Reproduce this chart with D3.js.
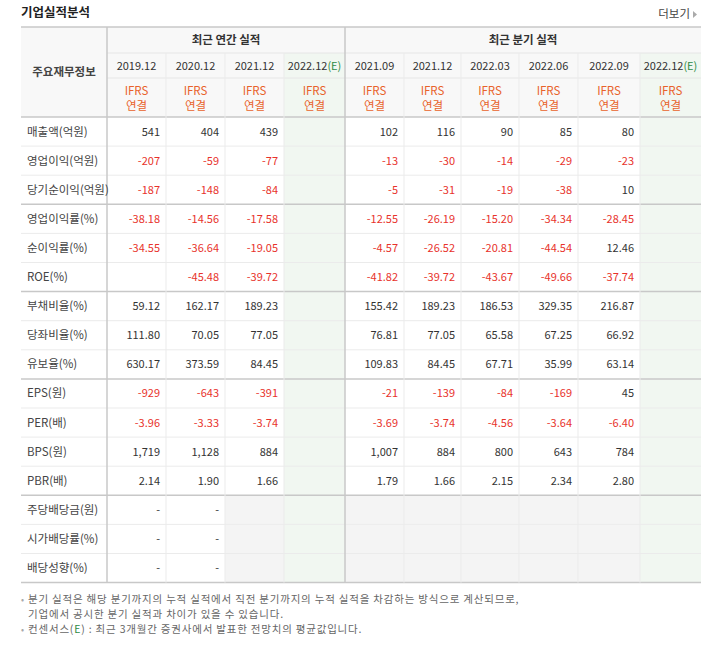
<!DOCTYPE html><html><head><meta charset="utf-8"><script src="https://cdn.jsdelivr.net/npm/d3@7"></script>
<style>body{margin:0;background:#fff;font-family:"Noto Sans CJK KR",sans-serif}</style></head><body><svg id="c" width="715" height="654"></svg>
<script>
const annualPeriods=["2019.12","2020.12","2021.12","2022.12(E)"];
const quarterPeriods=["2021.09","2021.12","2022.03","2022.06","2022.09","2022.12(E)"];
const rowLabels=["매출액(억원)","영업이익(억원)","당기순이익(억원)","영업이익률(%)","순이익률(%)","ROE(%)","부채비율(%)","당좌비율(%)","유보율(%)","EPS(원)","PER(배)","BPS(원)","PBR(배)","주당배당금(원)","시가배당률(%)","배당성향(%)"];
const annualValues=[["541","404","439",""],["-207","-59","-77",""],["-187","-148","-84",""],["-38.18","-14.56","-17.58",""],["-34.55","-36.64","-19.05",""],["","-45.48","-39.72",""],["59.12","162.17","189.23",""],["111.80","70.05","77.05",""],["630.17","373.59","84.45",""],["-929","-643","-391",""],["-3.96","-3.33","-3.74",""],["1,719","1,128","884",""],["2.14","1.90","1.66",""],["-","-",null,null],["-","-",null,null],["-","-",null,null]];
const quarterValues=[["102","116","90","85","80",""],["-13","-30","-14","-29","-23",""],["-5","-31","-19","-38","10",""],["-12.55","-26.19","-15.20","-34.34","-28.45",""],["-4.57","-26.52","-20.81","-44.54","12.46",""],["-41.82","-39.72","-43.67","-49.66","-37.74",""],["155.42","189.23","186.53","329.35","216.87",""],["76.81","77.05","65.58","67.25","66.92",""],["109.83","84.45","67.71","35.99","63.14",""],["-21","-139","-84","-169","45",""],["-3.69","-3.74","-4.56","-3.64","-6.40",""],["1,007","884","800","643","784",""],["1.79","1.66","2.15","2.34","2.80",""],[null,null,null,null,null,null],[null,null,null,null,null,null],[null,null,null,null,null,null]];
const groupBreaks=[3,6,9,13];

const svg=d3.select("#c");
const colEdges=[21,107,166,225,284,345,404,461,519,578,640,701];
const top0=117,rowH=29.1;
const y=d3.scaleLinear().domain([0,rowLabels.length]).range([top0,top0+rowH*rowLabels.length]);
const red="#e8322b",txt="#333",orange="#e8632b",green="#2e8b45";
svg.append("text").attr("x",21).attr("y",17).attr("font-size",12.5).attr("font-weight","bold").attr("fill","#222").text("기업실적분석");
svg.append("text").attr("x",690).attr("y",18).attr("font-size",11.5).attr("fill","#444").attr("text-anchor","end").text("더보기");
svg.append("path").attr("d","M693,11 L697,14.5 L693,18Z").attr("fill","#aaa");
svg.append("rect").attr("x",21).attr("y",27).attr("width",680).attr("height",90).attr("fill","#f8f8f8");
[4,10].forEach(i=>svg.append("rect").attr("x",colEdges[i]).attr("y",53).attr("width",colEdges[i+1]-colEdges[i]).attr("height",y(13)-53).attr("fill","#f1f7f1"));
const allVals=rowLabels.map((r,i)=>annualValues[i].concat(quarterValues[i]));
allVals.forEach((row,i)=>row.forEach((v,j)=>{if(v===null){const c=j+1;svg.append("rect").attr("x",colEdges[c]).attr("y",y(i)).attr("width",colEdges[c+1]-colEdges[c]).attr("height",rowH).attr("fill",(c===4||c===10)?"#f1f7f1":"#f4f4f4");}}));
const line=(x1,y1,x2,y2,c,w)=>svg.append("line").attr("x1",x1).attr("y1",y1).attr("x2",x2).attr("y2",y2).attr("stroke",c).attr("stroke-width",w||1);
line(21,27,701,27,"#c8c8c8",1.5);
line(107,53,701,53,"#e6e6e6");line(107,78,701,78,"#e6e6e6");
line(21,117,701,117,"#c8c8c8",1.5);
for(let i=1;i<rowLabels.length;i++){line(21,y(i),701,y(i),groupBreaks.includes(i)?"#c8c8c8":"#ebebeb",groupBreaks.includes(i)?1.5:1);}
line(21,y(16),701,y(16),"#c8c8c8",1.5);
colEdges.slice(2,-1).forEach(x=>{if(x!==345)line(x,53,x,y(16),"#ebebeb");});
line(107,27,107,y(16),"#c8c8c8",1.5);line(345,27,345,y(16),"#c8c8c8",1.5);
const mid=i=>(colEdges[i]+colEdges[i+1])/2;
svg.append("text").attr("x",226).attr("y",44).attr("text-anchor","middle").attr("font-size",11.5).attr("font-weight","bold").attr("fill","#333").text("최근 연간 실적");
svg.append("text").attr("x",523).attr("y",44).attr("text-anchor","middle").attr("font-size",11.5).attr("font-weight","bold").attr("fill","#333").text("최근 분기 실적");
svg.append("text").attr("x",64).attr("y",76).attr("text-anchor","middle").attr("font-size",11.5).attr("font-weight","bold").attr("fill","#444").text("주요재무정보");
annualPeriods.concat(quarterPeriods).forEach((p,j)=>{const c=j+1;const t=svg.append("text").attr("x",mid(c)).attr("y",70).attr("text-anchor","middle").attr("font-size",11).attr("fill","#333");
 if(p.includes("(E)")){t.append("tspan").text(p.replace("(E)",""));t.append("tspan").attr("fill",green).text("(E)");}else t.text(p);
 svg.append("text").attr("x",mid(c)).attr("y",95).attr("text-anchor","middle").attr("font-size",11.5).attr("fill",orange).text("IFRS");
 svg.append("text").attr("x",mid(c)).attr("y",110).attr("text-anchor","middle").attr("font-size",11.5).attr("fill",orange).text("연결");});
rowLabels.forEach((r,i)=>{svg.append("text").attr("x",27).attr("y",y(i)+rowH/2+4).attr("font-size",11.5).attr("fill","#444").text(r);
 allVals[i].forEach((v,j)=>{if(!v)return;const c=j+1;svg.append("text").attr("x",colEdges[c+1]-6).attr("y",y(i)+rowH/2+4).attr("text-anchor","end").attr("font-size",11).attr("fill",v.startsWith("-")&&v.length>1?red:txt).text(v);});});
const ny=y(16);
const note=(x,yy,parts)=>{const t=svg.append("text").attr("x",x).attr("y",yy).attr("font-size",10.5).attr("letter-spacing",0.8).attr("fill","#666");parts.forEach(p=>t.append("tspan").attr("fill",p[1]||"#666").text(p[0]));};
[ny+20,ny+50].forEach(d=>svg.append("text").attr("x",21).attr("y",d).attr("font-size",9).attr("fill","#aaa").text("•"));
note(28,ny+20,[["분기 실적은 해당 분기까지의 누적 실적에서 직전 분기까지의 누적 실적을 차감하는 방식으로 계산되므로,"]]);
note(28,ny+35,[["기업에서 공시한 분기 실적과 차이가 있을 수 있습니다."]]);
note(28,ny+50,[["컨센서스("],["E",green],[") : 최근 3개월간 증권사에서 발표한 전망치의 평균값입니다."]]);
</script></body></html>
